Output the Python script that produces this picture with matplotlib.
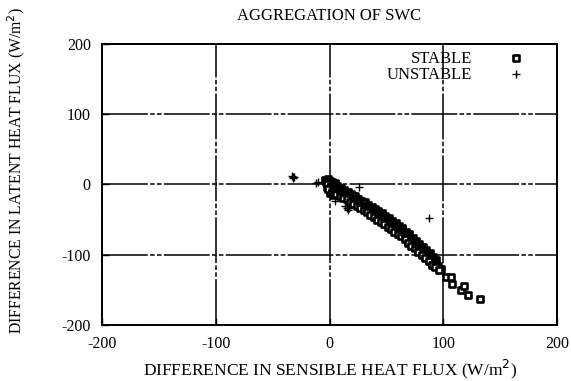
import matplotlib
matplotlib.use('Agg')
import matplotlib.pyplot as plt

plt.rcParams['font.family'] = ['Liberation Serif', 'DejaVu Serif']
plt.rcParams['axes.unicode_minus'] = False

# differences in sensible / latent heat flux (W/m^2), stable cases
stable_x = [-4, -3, -2, -1, 0, 1, 3, 5,
            0, 2, 4, 7, 10, 13, 16, 19, 22, 25, 28, 31, 34, 37, 40, 43, 46, 49,
            52, 55, 58, 61, 64, 67, 70, 73, 76, 79, 82, 85, 88, 91, 94,
            0, 3, 6, 9, 12, 15, 18, 21, 24, 27, 30, 33, 36, 39, 42, 45,
            48, 51, 54, 57, 60, 63, 66, 69, 72, 75, 78, 81, 84, 87, 90, 93,
            -2, 1, 3, 5, 8, 11, 14, 17, 20, 23, 26, 29, 32, 35, 38, 41, 44, 47,
            50, 53, 56, 59, 62, 65, 68, 71, 74, 77, 80, 83, 86, 89, 92, 95, 98,
            0, 3, 6, 9, 12, 15, 18, 21, 24, 27, 30, 33, 36, 39, 42, 45,
            48, 51, 54, 57, 60, 63, 66, 69, 72, 75, 78, 81, 84, 87, 90, 93,
            -1, 2, 4, 6, 9, 12, 15, 18, 21, 24, 27, 30, 33, 36, 39, 42, 45, 48,
            51, 54, 57, 60, 63, 66, 69, 72, 75, 78, 81, 84, 87, 90, 93, 96,
            102, 107, 108, 116, 118, 122, 132]
stable_y = [6, 3, -3, 8, -12, 1, -15, 2,
            5, 3, 0, -2, -5, -8, -11, -14, -16, -20, -23, -25, -29, -32, -35, -38, -41, -45,
            -48, -52, -55, -59, -62, -67, -71, -76, -80, -84, -89, -93, -98, -103, -107,
            2, -1, -4, -6, -9, -12, -15, -17, -21, -24, -27, -30, -33, -36, -40, -43,
            -47, -50, -54, -57, -61, -65, -69, -73, -77, -82, -87, -92, -96, -101, -106, -110,
            0, -2, -5, -6, -9, -12, -14, -18, -21, -23, -27, -30, -32, -36, -39, -42, -45, -49,
            -52, -56, -59, -63, -67, -71, -75, -79, -84, -88, -94, -98, -102, -107, -111, -116, -121,
            -5, -8, -10, -12, -15, -18, -21, -24, -27, -30, -33, -36, -39, -42, -46, -49,
            -53, -56, -60, -63, -67, -71, -75, -79, -83, -88, -93, -98, -102, -107, -112, -116,
            -6, -10, -12, -14, -16, -19, -21, -25, -28, -30, -34, -37, -39, -43, -46, -50, -53, -56,
            -60, -63, -67, -71, -74, -78, -83, -87, -91, -96, -101, -105, -109, -114, -118, -122,
            -131, -131, -141, -150, -144, -157, -163]

# unstable cases
unstable_x = [-33, -32, -31, -32, -12, -10, 1, 3, 5, 7, 10, 14, 15, 16, 17,
              26, 22, 30, 40, 55, 65, 75, 87]
unstable_y = [12, 10, 11, 9, 2, 3, -2, -6, -24, -10, -13, -31, -34, -36, -33,
              -4, -22, -33, -42, -58, -72, -89, -48]

fig = plt.figure(figsize=(5.71, 3.81), dpi=100)
ax = fig.add_axes([0.1786, 0.147, 0.797, 0.7375])

ax.scatter(stable_x, stable_y, marker='s', s=16, facecolor='white',
           edgecolor='black', linewidth=1.9, label='STABLE', zorder=3)
ax.scatter(unstable_x, unstable_y, marker='+', s=30, color='black',
           linewidth=1.0, label='UNSTABLE', zorder=4)

ax.set_xlim(-200, 200)
ax.set_ylim(-200, 200)
ax.set_xticks([-200, -100, 0, 100, 200])
ax.set_yticks([-200, -100, 0, 100, 200])
ax.tick_params(direction='in', length=5, width=1, labelsize=11.5, pad=8)
ax.grid(True, color='black', linewidth=1.1, linestyle=(0, (30, 1.5, 3, 1.5, 3, 1.5)))
ax.set_axisbelow(True)
for s in ax.spines.values():
    s.set_linewidth(1.4)

ax.set_title('AGGREGATION OF SWC', fontsize=12, pad=17)
ax.set_xlabel('DIFFERENCE IN SENSIBLE HEAT FLUX (W/m$^2$)', fontsize=12.5, labelpad=4)
ax.set_ylabel('DIFFERENCE IN LATENT HEAT FLUX (W/m$^2$)', fontsize=11.3)
ax.yaxis.set_label_coords(-0.165, 0.55)

ax.legend(loc='upper right', frameon=False, markerfirst=False, fontsize=12,
          handletextpad=1.6, labelspacing=0.0, borderaxespad=0.0,
          bbox_to_anchor=(0.96, 1.0))

fig.savefig('out.png', dpi=100)
